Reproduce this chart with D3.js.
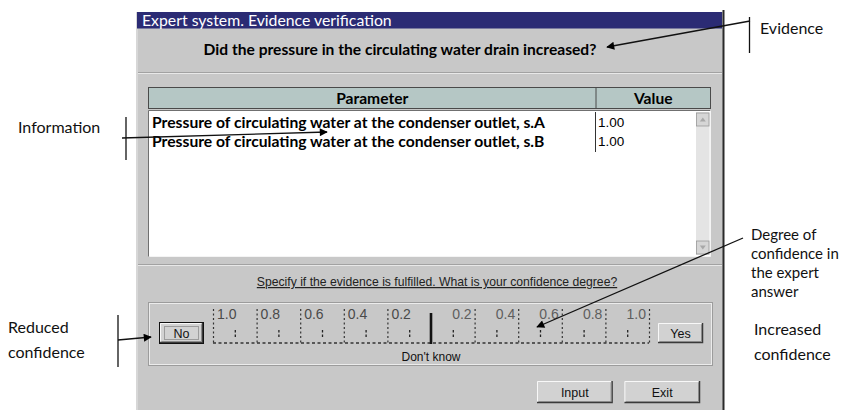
<!DOCTYPE html>
<html>
<head>
<meta charset="utf-8">
<script src="https://cdn.jsdelivr.net/npm/d3@7"></script>
<style>
  body { margin: 0; background: #fff; }
  svg { display: block; }
</style>
</head>
<body>
<svg id="chart" width="844" height="410"></svg>
<script>
// data
const titleText = "Expert system. Evidence verification";
const questionText = "Did the pressure in the circulating water drain increased?";
const columns = ["Parameter", "Value"];
const paramNames = [
  "Pressure of circulating water at the condenser outlet, s.A",
  "Pressure of circulating water at the condenser outlet, s.B"
];
const paramValues = ["1.00", "1.00"];
const promptText = "Specify if the evidence is fulfilled. What is your confidence degree?";
const noTicks = [-1.0, -0.8, -0.6, -0.4, -0.2];
const yesTicks = [0.2, 0.4, 0.6, 0.8, 1.0];
const midTicks = [-0.9, -0.7, -0.5, -0.3, -0.1, 0.1, 0.3, 0.5, 0.7, 0.9];
const buttons = ["Input", "Exit"];
const notes = [
  { lines: ["Evidence"], x: 760, y: 34, size: 16 },
  { lines: ["Information"], x: 18, y: 133, size: 16 },
  { lines: ["Reduced", "confidence"], x: 8, y: 333, size: 16 },
  { lines: ["Degree of", "confidence in", "the expert", "answer"], x: 751, y: 240, size: 15 },
  { lines: ["Increased", "confidence"], x: 754, y: 335, size: 16 }
];

const svg = d3.select("#chart");
const ui = "'Liberation Sans', Arial, sans-serif";
const cal = "Lato, 'Open Sans', sans-serif";

svg.append("defs").append("marker")
  .attr("id", "head").attr("viewBox", "0 0 10 10")
  .attr("refX", 9).attr("refY", 5)
  .attr("markerWidth", 10).attr("markerHeight", 8)
  .attr("markerUnits", "userSpaceOnUse")
  .attr("orient", "auto")
  .append("path").attr("d", "M0,0L10,5L0,10z").attr("fill", "#000");

// dialog window
svg.append("rect").attr("x", 136).attr("y", 12).attr("width", 588).attr("height", 400).attr("fill", "#c8c8c8");
svg.append("line").attr("x1", 137).attr("x2", 137).attr("y1", 12).attr("y2", 410).attr("stroke", "#e6e6e6");
svg.append("line").attr("x1", 723.5).attr("x2", 723.5).attr("y1", 10).attr("y2", 410).attr("stroke", "#2a2a2a").attr("stroke-width", 2);
svg.append("rect").attr("x", 137).attr("y", 12).attr("width", 585).attr("height", 16.5).attr("fill", "#2b2b74");
svg.append("text").attr("x", 142).attr("y", 25.5).attr("fill", "#fff")
  .attr("font-family", cal).attr("font-size", 15.8).text(titleText);

svg.append("text").attr("x", 400).attr("y", 55).attr("text-anchor", "middle")
  .attr("font-family", cal).attr("font-weight", "bold").attr("font-size", 15.6).text(questionText);

function etched(y) {
  svg.append("line").attr("x1", 138).attr("x2", 722).attr("y1", y).attr("y2", y).attr("stroke", "#a2a2a2");
  svg.append("line").attr("x1", 138).attr("x2", 722).attr("y1", y + 1).attr("y2", y + 1).attr("stroke", "#e8e8e8");
}
etched(72.5);
etched(264.5);

// parameter table
const colX = d3.scaleOrdinal().domain(columns).range([148.5, 596]);
const colEnd = d3.scaleOrdinal().domain(columns).range([596, 710.5]);
const head = svg.append("g");
head.append("rect").attr("x", 148.5).attr("y", 87.5).attr("width", 562).attr("height", 21)
  .attr("fill", "#b5c7c5").attr("stroke", "#4a4a4a");
head.append("line").attr("x1", 596).attr("x2", 596).attr("y1", 87.5).attr("y2", 108.5).attr("stroke", "#4a4a4a");
head.selectAll("text").data(columns).join("text")
  .attr("x", d => (colX(d) + colEnd(d)) / 2).attr("y", 103.5).attr("text-anchor", "middle")
  .attr("font-family", cal).attr("font-weight", "bold").attr("font-size", 15.6).text(d => d);

svg.append("rect").attr("x", 148.5).attr("y", 110.5).attr("width", 562).attr("height", 146).attr("fill", "#fff");
svg.append("path").attr("d", "M148.5,256.5V110.5H710.5").attr("fill", "none").attr("stroke", "#707070");
svg.append("path").attr("d", "M149.5,256.5H710.5V110.5").attr("fill", "none").attr("stroke", "#f4f4f4");

// scrollbar
svg.append("rect").attr("x", 696).attr("y", 112).attr("width", 13.5).attr("height", 143).attr("fill", "#e4e4e4");
[113, 241].forEach((y, i) => {
  svg.append("rect").attr("x", 696.5).attr("y", y).attr("width", 12.5).attr("height", 13)
    .attr("fill", "#d6d6d6").attr("stroke", "#9a9a9a").attr("stroke-width", 0.8);
  const cx = 702.8, cy = y + 6.5;
  svg.append("path").attr("fill", "#a8a8a8")
    .attr("d", i === 0 ? `M${cx - 3},${cy + 2}L${cx + 3},${cy + 2}L${cx},${cy - 2}z`
                       : `M${cx - 3},${cy - 2}L${cx + 3},${cy - 2}L${cx},${cy + 2}z`);
});

const rowY = d3.scaleBand().domain(d3.range(paramNames.length)).range([112, 150]);
const rows = svg.append("g");
rows.selectAll(".pname").data(paramNames).join("text").attr("class", "pname")
  .attr("x", 152).attr("y", (d, i) => rowY(i) + 15.5)
  .attr("font-family", cal).attr("font-weight", "bold").attr("font-size", 15.7).text(d => d);
rows.selectAll(".pval").data(paramValues).join("text").attr("class", "pval")
  .attr("x", 598).attr("y", (d, i) => rowY(i) + 14.5)
  .attr("font-family", ui).attr("font-size", 13.5).text(d => d);
rows.append("line").attr("x1", 595.5).attr("x2", 595.5).attr("y1", 112).attr("y2", rowY.range()[1] + 2)
  .attr("stroke", "#333");

// confidence prompt
svg.append("text").attr("x", 437).attr("y", 286).attr("text-anchor", "middle")
  .attr("font-family", ui).attr("font-size", 12.2).attr("text-decoration", "underline")
  .attr("fill", "#222").text(promptText);

// group box
svg.append("rect").attr("x", 148.5).attr("y", 302.5).attr("width", 564).attr("height", 63)
  .attr("fill", "none").attr("stroke", "#9c9c9c");
svg.append("rect").attr("x", 149.5).attr("y", 303.5).attr("width", 562).attr("height", 61)
  .attr("fill", "none").attr("stroke", "#ececec");

// confidence scale
const x = d3.scaleLinear().domain([-1, 1]).range([213, 649]);
const scale = svg.append("g");
scale.selectAll(".tk").data(noTicks.concat(yesTicks)).join("line").attr("class", "tk")
  .attr("x1", d => x(d) + 0.5).attr("x2", d => x(d) + 0.5).attr("y1", 309).attr("y2", 343)
  .attr("stroke", "#333").attr("stroke-width", 1.2).attr("stroke-dasharray", "2,2.5");
scale.selectAll(".mt").data(midTicks).join("line").attr("class", "mt")
  .attr("x1", d => x(d) + 0.5).attr("x2", d => x(d) + 0.5).attr("y1", 330).attr("y2", 338)
  .attr("stroke", "#222").attr("stroke-width", 1.3).attr("stroke-dasharray", "2.5,2");
scale.append("line").attr("x1", x(-1)).attr("x2", x(1)).attr("y1", 343).attr("y2", 343)
  .attr("stroke", "#333").attr("stroke-width", 1.3).attr("stroke-dasharray", "3,2.5");
scale.append("line").attr("x1", x(0)).attr("x2", x(0)).attr("y1", 313).attr("y2", 344)
  .attr("stroke", "#111").attr("stroke-width", 2.6);
const fmt = d3.format(".1f");
scale.selectAll(".nl").data(noTicks).join("text").attr("class", "nl")
  .attr("x", d => x(d) + 4).attr("y", 319)
  .attr("font-family", ui).attr("font-size", 14).attr("fill", "#4a4a4a").text(d => fmt(Math.abs(d)));
scale.selectAll(".yl").data(yesTicks).join("text").attr("class", "yl")
  .attr("x", d => x(d) - 3).attr("y", 319).attr("text-anchor", "end")
  .attr("font-family", ui).attr("font-size", 14).attr("fill", "#5e5e5e").text(d => fmt(d));
svg.append("text").attr("x", x(0)).attr("y", 361).attr("text-anchor", "middle")
  .attr("font-family", ui).attr("font-size", 12).attr("fill", "#111").text("Don't know");

function button(bx, by, w, h, label) {
  const g = svg.append("g");
  g.append("rect").attr("x", bx).attr("y", by).attr("width", w).attr("height", h).attr("fill", "#d2d2d2");
  g.append("path").attr("d", `M${bx + 0.5},${by + h}V${by + 0.5}H${bx + w}`).attr("fill", "none").attr("stroke", "#f8f8f8");
  g.append("path").attr("d", `M${bx},${by + h - 0.5}H${bx + w - 0.5}V${by}`).attr("fill", "none").attr("stroke", "#3a3a3a").attr("stroke-width", 1.5);
  g.append("path").attr("d", `M${bx + 1.5},${by + h - 1.5}H${bx + w - 1.5}V${by + 1.5}`).attr("fill", "none").attr("stroke", "#8a8a8a");
  g.append("text").attr("x", bx + w / 2).attr("y", by + h / 2 + 4.5).attr("text-anchor", "middle")
    .attr("font-family", ui).attr("font-size", 12.5).attr("fill", "#111").text(label);
  return g;
}

const noBtn = button(160, 323, 43, 20, "No");
noBtn.append("rect").attr("x", 159.5).attr("y", 322.5).attr("width", 44).attr("height", 21)
  .attr("fill", "none").attr("stroke", "#111");
noBtn.append("rect").attr("x", 164.5).attr("y", 326.5).attr("width", 34).attr("height", 13)
  .attr("fill", "none").attr("stroke", "#666").attr("stroke-dasharray", "1,1");
button(658, 323, 45, 20, "Yes");

const btnX = d3.scaleBand().domain(buttons).range([537, 700]).paddingInner(0.135);
buttons.forEach(b => button(btnX(b), 381, btnX.bandwidth(), 22, b));

// annotations
const ann = svg.append("g").attr("font-family", cal).attr("fill", "#111");
notes.forEach(n => {
  ann.append("text").attr("font-size", n.size).selectAll("tspan").data(n.lines).join("tspan")
    .attr("x", n.x).attr("y", (d, i) => n.y + i * (n.lines.length > 2 ? 19 : 25)).text(d => d);
});

const seg = (x1, y1, x2, y2, arrow) => svg.append("line")
  .attr("x1", x1).attr("y1", y1).attr("x2", x2).attr("y2", y2)
  .attr("stroke", "#111").attr("stroke-width", 1.3)
  .attr("marker-end", arrow ? "url(#head)" : null);

seg(749.5, 17, 749.5, 53);
seg(750, 21, 607, 47, true);
seg(126, 117, 126, 160);
seg(122, 138, 327, 132, true);
seg(118, 315, 118, 367);
seg(118, 340, 151, 337, true);
seg(743, 238, 537, 327, true);
</script>
</body>
</html>
